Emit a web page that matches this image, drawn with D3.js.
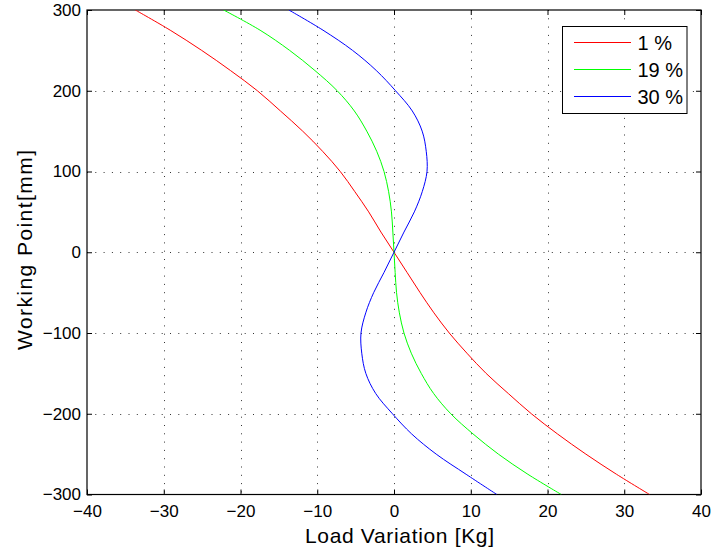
<!DOCTYPE html>
<html>
<head>
<meta charset="utf-8">
<script src="https://cdn.jsdelivr.net/npm/d3@7"></script>
<style>
  html, body { margin: 0; padding: 0; background: #fff; }
  svg { display: block; font-family: "Liberation Sans", Arial, Helvetica, sans-serif; }
</style>
</head>
<body>
<div id="chart"></div>
<script>
// ---- Data ----
const workingPoint = [300,275,250,225,200,175,150,125,100,75,50,25,0,-25,-50,-75,-100,-125,-150,-175,-200,-225,-250,-275,-300];
const load1  = [-33.7,-29.16,-25.06,-21.3,-17.8,-14.8,-11.9,-9.3,-7.0,-5.1,-3.3,-1.7,0,1.7,3.4,5.2,7.2,9.5,12.0,14.9,17.9,21.3,25.0,29.0,33.3];
const load19 = [-22.2,-17.45,-13.6,-10.3,-7.4,-5.17,-3.55,-2.25,-1.3,-0.7,-0.33,-0.15,0,0.15,0.33,0.7,1.3,2.25,3.55,5.17,7.4,10.3,13.6,17.45,21.8];
const load30 = [-13.7,-9.25,-5.4,-2.3,0.2,2.38,3.67,4.2,4.3,3.68,2.65,1.3,0,-1.3,-2.65,-3.68,-4.3,-4.2,-3.67,-2.38,-0.2,2.3,5.5,9.4,13.4];
const seriesNames = ["1 %", "19 %", "30 %"];
const seriesColors = ["#ff0000", "#00ff00", "#0000ff"];
const xTicks = [-40,-30,-20,-10,0,10,20,30,40];
const yTicks = [-300,-200,-100,0,100,200,300];

const W = 713, H = 554;
const pLeft = 87, pRight = 701, pTop = 10, pBottom = 494.5;

const svg = d3.select("#chart").append("svg").attr("width", W).attr("height", H);
svg.append("rect").attr("width", W).attr("height", H).attr("fill", "#fff");

const x = d3.scaleLinear().domain([-40, 40]).range([pLeft, pRight]);
const y = d3.scaleLinear().domain([-300, 300]).range([pBottom, pTop]);

// grid
const grid = svg.append("g");
grid.selectAll(".gx").data(xTicks.slice(1, -1)).join("line")
  .attr("x1", d => Math.round(x(d)) + 0.5).attr("x2", d => Math.round(x(d)) + 0.5)
  .attr("y1", pTop).attr("y2", pBottom)
  .attr("stroke", "#333").attr("stroke-width", 1).attr("stroke-dasharray", "1,7.3");
grid.selectAll(".gy").data(yTicks.slice(1, -1)).join("line")
  .attr("y1", d => Math.round(y(d)) + 0.5).attr("y2", d => Math.round(y(d)) + 0.5)
  .attr("x1", pLeft).attr("x2", pRight)
  .attr("stroke", "#333").attr("stroke-width", 1).attr("stroke-dasharray", "1,7.3");

// axes with inward ticks
const tickLen = 5;
const fmt = d => d < 0 ? "\u2212" + Math.abs(d) : d;
const axB = svg.append("g").attr("transform", `translate(0,${pBottom})`)
  .call(d3.axisBottom(x).tickValues(xTicks).tickSizeInner(-tickLen).tickSizeOuter(0).tickPadding(10).tickFormat(fmt));
const axT = svg.append("g").attr("transform", `translate(0,${pTop})`)
  .call(d3.axisTop(x).tickValues(xTicks).tickSizeInner(-tickLen).tickSizeOuter(0).tickFormat(""));
const axL = svg.append("g").attr("transform", `translate(${pLeft},0)`)
  .call(d3.axisLeft(y).tickValues(yTicks).tickSizeInner(-tickLen).tickSizeOuter(0).tickPadding(6).tickFormat(fmt));
const axR = svg.append("g").attr("transform", `translate(${pRight},0)`)
  .call(d3.axisRight(y).tickValues(yTicks).tickSizeInner(-tickLen).tickSizeOuter(0).tickFormat(""));
[axB, axT, axL, axR].forEach(g => {
  g.select(".domain").remove();
  g.selectAll(".tick line").attr("stroke", "#000");
  g.selectAll(".tick text").attr("fill", "#000").attr("font-size", 17)
    .attr("font-family", "'Liberation Sans', Arial, sans-serif");
});
axB.selectAll(".tick text").attr("dy", "0.71em");

// box
svg.append("rect").attr("x", pLeft).attr("y", pTop).attr("width", pRight - pLeft).attr("height", pBottom - pTop)
  .attr("fill", "none").attr("stroke", "#000").attr("stroke-width", 1.2);

// lines
svg.append("clipPath").attr("id", "clip").append("rect")
  .attr("x", pLeft).attr("y", pTop).attr("width", pRight - pLeft).attr("height", pBottom - pTop);
const allLoads = [load1, load19, load30];
const line = d3.line().x(d => x(d[0])).y(d => y(d[1])).curve(d3.curveCatmullRom);
allLoads.forEach((arr, i) => {
  const pts = arr.map((v, j) => [v, workingPoint[j]]);
  svg.append("path").attr("d", line(pts)).attr("fill", "none")
    .attr("stroke", seriesColors[i]).attr("stroke-width", 1).attr("clip-path", "url(#clip)");
});

// axis labels
svg.append("text").attr("x", 399.5).attr("y", 543).attr("text-anchor", "middle")
  .attr("font-size", 21).attr("fill", "#000")
  .attr("textLength", 189).attr("lengthAdjust", "spacing").text("Load Variation [Kg]");
svg.append("text").attr("transform", "translate(32,250) rotate(-90)").attr("text-anchor", "middle")
  .attr("font-size", 21).attr("fill", "#000")
  .attr("textLength", 200).attr("lengthAdjust", "spacing").text("Working Point[mm]");

// legend
const lg = svg.append("g");
lg.append("rect").attr("x", 562.5).attr("y", 26.5).attr("width", 124.5).attr("height", 87)
  .attr("fill", "#fff").attr("stroke", "#000").attr("stroke-width", 1);
const rowsY = [42.5, 69.5, 96.5];
seriesNames.forEach((n, i) => {
  lg.append("line").attr("x1", 574).attr("x2", 631).attr("y1", rowsY[i]).attr("y2", rowsY[i])
    .attr("stroke", seriesColors[i]).attr("stroke-width", 1);
  lg.append("text").attr("x", 637.5).attr("y", rowsY[i]).attr("dy", "0.36em")
    .attr("font-size", 20).attr("fill", "#000").text(n);
});
</script>
</body>
</html>
